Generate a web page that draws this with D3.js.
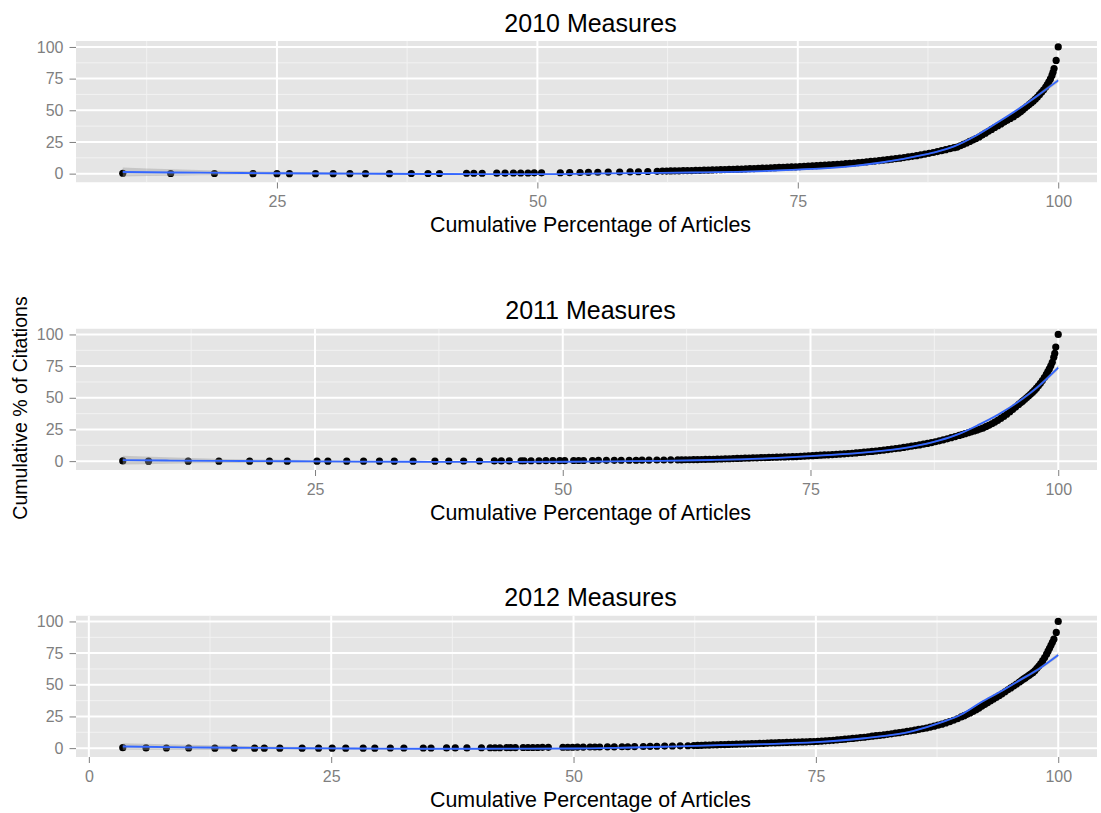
<!DOCTYPE html>
<html>
<head>
<meta charset="utf-8">
<script src="https://cdn.jsdelivr.net/npm/d3@7"></script>
<style>
  body { margin: 0; background: #fff; }
  svg { display: block; }
  text { font-family: "Liberation Sans", Arial, Helvetica, sans-serif; }
</style>
</head>
<body>
<svg id="chart" width="1101" height="813"></svg>
<script>
// ---- Data -----------------------------------------------------------------
const panelTitles = ["2010 Measures", "2011 Measures", "2012 Measures"];
const xAxisTitle = "Cumulative Percentage of Articles";
const yAxisTitle = "Cumulative % of Citations";
const xTicks = [0, 25, 50, 75, 100];
const yTicks = [0, 25, 50, 75, 100];
const xMinor = [12.5, 37.5, 62.5, 87.5];
const yMinor = [12.5, 37.5, 62.5, 87.5];

// 2010: cumulative % of articles (x) vs cumulative % of citations (y)
const x2010 = [10.2,14.8,19.0,22.7,25.0,26.2,28.7,30.4,32.0,33.5,35.8,37.9,39.5,40.6,43.2,43.9,44.7,46.1,46.9,47.7,
  48.4,49.1,49.7,50.4,52.2,53.1,54.1,54.9,55.8,56.8,57.9,58.9,59.7,60.6,61.5,
  62.0,62.4,62.8,63.2,63.6,64.0,64.4,64.8,65.2,65.6,66.0,66.4,66.8,67.2,67.6,68.0,68.4,68.8,69.2,69.6,
  70.0,70.4,70.8,71.2,71.6,72.0,72.4,72.8,73.2,73.6,74.0,74.4,74.8,75.2,75.6,76.0,76.4,76.8,77.2,77.6,
  78.0,78.4,78.8,79.2,79.6,80.0,80.4,80.8,81.2,81.6,82.0,82.4,82.8,83.2,83.6,84.0,84.4,84.8,85.2,85.6,
  86.0,86.4,86.8,87.2,87.6,88.0,88.4,88.8,89.2,89.6,90.0,
  90.3,90.6,90.9,91.2,91.5,91.8,92.1,92.4,92.7,93.0,93.3,93.6,93.9,94.2,94.5,94.8,95.1,95.4,95.7,96.0,
  96.2,96.4,96.6,96.8,97.0,97.2,97.4,97.6,97.8,98.0,98.2,98.4,98.6,98.8,98.95,99.1,99.25,99.4,99.5,99.6,
  99.8,100];
const y2010 = [0.3,0.1,0.1,0,0,0,0,0,0,0,0,0.1,0.1,0.1,0.3,0.3,0.3,0.4,0.4,0.5,
  0.5,0.5,0.6,0.6,0.7,0.8,0.9,1.0,1.1,1.2,1.3,1.4,1.5,1.7,1.8,
  2.0,2.0,2.1,2.2,2.2,2.3,2.4,2.4,2.5,2.6,2.7,2.8,2.9,3.0,3.1,3.2,3.3,3.4,3.5,3.6,
  3.8,3.9,4.0,4.1,4.3,4.4,4.6,4.7,4.9,5.0,5.1,5.3,5.4,5.6,5.8,6.0,6.2,6.4,6.6,6.8,
  7.0,7.2,7.4,7.6,7.9,8.1,8.4,8.7,9.0,9.3,9.6,9.9,10.3,10.6,11.0,11.4,11.8,12.2,12.7,13.2,
  13.7,14.2,14.8,15.4,16.0,16.7,17.4,18.1,18.9,19.7,20.5,
  21.0,22.0,23.1,24.2,25.4,26.5,27.7,28.9,30.4,31.9,33.4,34.9,36.4,37.8,39.2,40.7,42.1,43.6,45.0,46.6,
  47.8,49.1,50.5,51.8,53.2,54.5,55.8,57.2,58.8,60.5,62.3,64.2,66.2,68.4,70.3,72.5,74.8,77.5,80.0,83.0,
  89.4,100];

// 2011
const x2011 = [5.6,8.2,12.2,15.3,18.4,20.4,22.2,25.2,26.3,28.2,29.9,31.5,33.0,34.9,37.1,38.5,40.0,41.6,43.1,43.8,
  44.6,45.8,46.1,46.8,47.6,48.3,49.0,49.7,50.2,51.1,51.6,52.1,53.0,53.6,54.4,55.2,55.9,56.7,57.4,58.0,
  58.7,59.5,60.2,60.9,
  61.6,62.0,62.4,62.8,63.2,63.6,64.0,64.4,64.8,65.2,65.6,66.0,66.4,66.8,67.2,67.6,68.0,68.4,68.8,69.2,
  69.6,70.0,70.4,70.8,71.2,71.6,72.0,72.4,72.8,73.2,73.6,74.0,74.4,74.8,75.2,75.6,76.0,76.4,76.8,77.2,
  77.6,78.0,78.4,78.8,79.2,79.6,80.0,80.4,80.8,81.2,81.6,82.0,82.4,82.8,83.2,83.6,84.0,84.4,84.8,85.2,
  85.6,86.0,86.4,86.8,87.2,87.6,88.0,88.4,88.8,89.2,89.6,90.0,
  90.3,90.6,90.9,91.2,91.5,91.8,92.1,92.4,92.7,93.0,93.3,93.6,93.9,94.2,94.5,94.8,95.1,95.4,95.7,96.0,
  96.2,96.4,96.6,96.8,97.0,97.2,97.4,97.6,97.8,98.0,98.2,98.4,98.6,98.8,98.95,99.1,99.25,99.4,99.55,99.65,
  99.75,100];
const y2011 = [0.2,0,0,0,0,0,0,0,0,0,0,0,0,0,0,0.1,0.1,0.1,0.2,0.2,
  0.2,0.3,0.3,0.3,0.3,0.4,0.4,0.4,0.4,0.5,0.5,0.5,0.5,0.6,0.6,0.6,0.7,0.7,0.7,0.8,
  0.8,0.9,0.9,1.0,
  1.0,1.0,1.1,1.1,1.2,1.2,1.3,1.4,1.5,1.5,1.6,1.7,1.8,1.9,2.0,2.1,2.2,2.3,2.4,2.5,
  2.6,2.7,2.8,2.9,3.0,3.1,3.2,3.3,3.4,3.5,3.6,3.8,3.9,4.1,4.3,4.5,4.7,4.9,5.0,5.2,
  5.4,5.6,5.8,6.0,6.2,6.5,6.8,7.1,7.4,7.7,8.0,8.3,8.7,9.1,9.5,9.9,10.3,10.8,11.3,11.8,
  12.3,12.8,13.4,14.0,14.6,15.3,16.0,16.8,17.6,18.5,19.4,20.3,
  21.0,21.7,22.4,23.1,23.8,24.5,25.3,26.1,27.2,28.3,29.5,30.8,32.2,33.7,35.3,37.0,38.8,40.7,42.7,44.7,
  46.0,47.3,48.6,50.0,51.4,52.8,54.2,55.8,57.6,59.5,61.5,63.6,66.0,68.5,70.6,72.8,75.2,78.0,82.0,85.0,
  90.0,100];

// 2012
const x2012 = [3.5,5.9,8.0,10.3,13.0,15.0,17.1,18.1,19.7,22.0,23.7,25.1,26.5,28.3,29.5,31.1,32.5,34.5,35.3,36.9,
  37.8,39.0,40.5,41.4,41.9,42.4,43.1,43.5,44.0,44.8,45.3,45.8,46.3,46.8,47.4,48.9,49.4,49.9,50.4,51.0,
  51.7,52.2,52.7,53.5,54.2,55.0,55.6,56.3,57.2,57.9,58.6,59.4,60.2,61.0,61.8,
  62.4,62.8,63.2,63.6,64.0,64.4,64.8,65.2,65.6,66.0,66.4,66.8,67.2,67.6,68.0,68.4,68.8,69.2,69.6,70.0,
  70.4,70.8,71.2,71.6,72.0,72.4,72.8,73.2,73.6,74.0,74.4,74.8,75.2,75.6,76.0,76.4,76.8,77.2,77.6,78.0,
  78.4,78.8,79.2,79.6,80.0,80.4,80.8,81.2,81.6,82.0,82.4,82.8,83.2,83.6,84.0,84.4,84.8,85.2,85.6,86.0,
  86.4,86.8,87.2,87.6,88.0,88.4,88.8,89.2,89.6,90.0,
  90.3,90.6,90.9,91.2,91.5,91.8,92.1,92.4,92.7,93.0,93.3,93.6,93.9,94.2,94.5,94.8,95.1,95.4,95.7,96.0,
  96.2,96.4,96.6,96.8,97.0,97.2,97.4,97.6,97.8,98.0,98.2,98.4,98.6,98.8,98.95,99.1,99.25,99.4,99.55,99.8,
  100];
const y2012 = [0.4,0.2,0.1,0.1,0,0,0,0,0,0,0,0,0,0,0,0.1,0.1,0.1,0.1,0.2,
  0.2,0.2,0.3,0.3,0.3,0.3,0.4,0.4,0.4,0.5,0.5,0.5,0.5,0.6,0.6,0.7,0.7,0.7,0.8,0.8,
  0.9,0.9,0.9,1.0,1.0,1.1,1.1,1.2,1.3,1.4,1.5,1.6,1.7,1.8,1.9,
  2.0,2.1,2.2,2.3,2.4,2.5,2.6,2.7,2.8,2.9,3.0,3.1,3.2,3.3,3.4,3.5,3.6,3.7,3.8,4.0,
  4.1,4.2,4.3,4.4,4.5,4.6,4.7,4.8,4.9,5.0,5.1,5.2,5.4,5.6,5.8,6.0,6.2,6.5,6.8,7.1,
  7.4,7.7,8.0,8.3,8.6,9.0,9.4,9.8,10.1,10.5,10.9,11.3,11.8,12.2,12.7,13.2,13.7,14.2,14.8,15.3,
  15.9,16.6,17.3,18.1,18.9,19.9,20.9,22.0,23.2,24.6,
  25.6,26.7,27.8,29.0,30.2,31.4,33.0,34.4,35.8,37.2,38.6,40.0,41.4,42.9,44.5,46.0,47.5,49.0,50.6,52.2,
  53.3,54.4,55.4,56.5,57.6,58.7,59.8,61.3,63.0,64.8,66.8,69.0,71.5,74.2,76.5,78.8,81.2,83.5,86.0,91.3,
  100];

// Smoothed trend (loess) with its standard-error half-width, per year
const fitX2010 = [10.2,15,20,25,30,35,40,45,50,55,60,65,70,75,80,83,85,88,90,92,94,96,98,100];
const fitY2010 = [1.3,0.9,0.6,0.3,0.1,-0.1,-0.3,-0.4,-0.4,0,0.4,0.9,1.6,3.2,5.8,8.8,11.5,16.5,21.5,29.5,39.5,50,61.5,73.6];
const fitSe2010 = [3.5,2.5,1.7,1.2,0.9,0.8,0.7,0.6,0.6,0.6,0.6,0.6,0.6,0.6,0.6,0.6,0.6,0.7,0.7,0.8,0.9,1.0,1.2,1.6];

const fitX2011 = [5.6,10,15,20,25,30,35,40,45,50,55,60,65,70,75,80,85,88,90,92,94,96,98,100];
const fitY2011 = [0.8,0.5,0.2,0,-0.2,-0.4,-0.5,-0.6,-0.6,-0.5,-0.2,0.2,0.9,2.0,4.0,6.6,11.0,16.3,21.5,28.8,37.0,47.0,59.0,73.8];
const fitSe2011 = [3.5,2.5,1.7,1.2,0.9,0.8,0.7,0.6,0.6,0.6,0.6,0.6,0.6,0.6,0.6,0.6,0.6,0.7,0.7,0.8,0.9,1.0,1.2,1.6];

const fitX2012 = [3.5,10,15,20,25,30,35,40,45,50,55,60,65,70,75,80,85,88,90,92,94,96,98,100];
const fitY2012 = [1.3,0.6,0.3,0,-0.2,-0.4,-0.5,-0.5,-0.4,-0.3,0.3,1.2,2.3,3.2,4.7,7.8,13.5,20.5,26.5,36.0,44.5,53.5,62.5,73.5];
const fitSe2012 = [2.5,2.0,1.5,1.1,0.9,0.8,0.7,0.6,0.6,0.6,0.6,0.6,0.6,0.6,0.6,0.6,0.6,0.7,0.7,0.8,0.9,1.0,1.2,1.6];

// ---- Layout ---------------------------------------------------------------
const panels = [
  { title: panelTitles[0], xs: x2010, ys: y2010, fx: fitX2010, fy: fitY2010, se: fitSe2010 },
  { title: panelTitles[1], xs: x2011, ys: y2011, fx: fitX2011, fy: fitY2011, se: fitSe2011 },
  { title: panelTitles[2], xs: x2012, ys: y2012, fx: fitX2012, fy: fitY2012, se: fitSe2012 }
];

const svg = d3.select("#chart");
const panelLeft = 76, panelRight = 1105, panelVisRight = 1097;
const panelTops = [41, 328.5, 615.5];
const panelH = 141.5;
const yDomain = [-7, 104.7];
const grey50 = "#7f7f7f";

panels.forEach((p, i) => {
  const top = panelTops[i], bottom = top + panelH;
  const [lo, hi] = d3.extent(p.xs);
  const pad = (hi - lo) * 0.05;
  const x = d3.scaleLinear().domain([lo - pad, hi + pad]).range([panelLeft, panelRight]);
  const y = d3.scaleLinear().domain(yDomain).range([bottom, top]);
  const inX = v => v >= x.domain()[0] && v <= x.domain()[1];

  const clipId = "clip" + i;
  svg.append("clipPath").attr("id", clipId)
    .append("rect").attr("x", panelLeft).attr("y", top)
    .attr("width", panelVisRight - panelLeft).attr("height", panelH);

  const g = svg.append("g");
  const plot = g.append("g").attr("clip-path", `url(#${clipId})`);

  plot.append("rect")
    .attr("x", panelLeft).attr("y", top)
    .attr("width", panelVisRight - panelLeft).attr("height", panelH)
    .attr("fill", "#e5e5e5");

  // minor grid
  plot.selectAll(".vminor").data(xMinor.filter(inX)).join("line")
    .attr("x1", d => x(d)).attr("x2", d => x(d)).attr("y1", top).attr("y2", bottom)
    .attr("stroke", "#f2f2f2").attr("stroke-width", 1);
  plot.selectAll(".hminor").data(yMinor).join("line")
    .attr("x1", panelLeft).attr("x2", panelVisRight).attr("y1", d => y(d)).attr("y2", d => y(d))
    .attr("stroke", "#f2f2f2").attr("stroke-width", 1);
  // major grid
  plot.selectAll(".vmajor").data(xTicks.filter(inX)).join("line")
    .attr("x1", d => x(d)).attr("x2", d => x(d)).attr("y1", top).attr("y2", bottom)
    .attr("stroke", "#ffffff").attr("stroke-width", 2);
  plot.selectAll(".hmajor").data(yTicks).join("line")
    .attr("x1", panelLeft).attr("x2", panelVisRight).attr("y1", d => y(d)).attr("y2", d => y(d))
    .attr("stroke", "#ffffff").attr("stroke-width", 2);

  // points
  const pts = d3.zip(p.xs, p.ys);
  plot.append("g").selectAll("circle").data(pts).join("circle")
    .attr("cx", d => x(d[0])).attr("cy", d => y(d[1])).attr("r", 3.6)
    .attr("fill", "#000");

  // smoother ribbon and line
  const fit = d3.zip(p.fx, p.fy, p.se);
  plot.append("path").datum(fit)
    .attr("d", d3.area().curve(d3.curveMonotoneX)
      .x(d => x(d[0])).y0(d => y(d[1] - d[2])).y1(d => y(d[1] + d[2])))
    .attr("fill", "#999999").attr("fill-opacity", 0.4);
  plot.append("path").datum(fit)
    .attr("d", d3.line().curve(d3.curveMonotoneX).x(d => x(d[0])).y(d => y(d[1])))
    .attr("fill", "none").attr("stroke", "#3366FF").attr("stroke-width", 1.8);

  // y axis
  const yAxis = g.append("g").attr("transform", `translate(${panelLeft},0)`)
    .call(d3.axisLeft(y).tickValues(yTicks).tickSize(6.5).tickPadding(6).tickFormat(d3.format("d")));
  yAxis.select(".domain").remove();
  yAxis.selectAll(".tick line").attr("stroke", grey50).attr("stroke-width", 1);
  yAxis.selectAll(".tick text").attr("fill", grey50).style("font-size", "16px")
    .style("font-family", '"Liberation Sans", Arial, sans-serif');

  // x axis
  const xAxis = g.append("g").attr("transform", `translate(0,${bottom})`)
    .call(d3.axisBottom(x).tickValues(xTicks.filter(inX)).tickSize(6).tickFormat(d3.format("d")));
  xAxis.select(".domain").remove();
  xAxis.selectAll(".tick line").attr("stroke", grey50).attr("stroke-width", 1);
  xAxis.selectAll(".tick text").attr("fill", grey50).style("font-size", "16px")
    .style("font-family", '"Liberation Sans", Arial, sans-serif')
    .attr("y", 24.5).attr("dy", null);

  // titles
  const cx = (panelLeft + panelRight) / 2;
  g.append("text").attr("x", cx).attr("y", top - 9.5).attr("text-anchor", "middle")
    .style("font-size", "25px").attr("fill", "#000").text(p.title);
  g.append("text").attr("x", cx).attr("y", bottom + 49.5).attr("text-anchor", "middle")
    .style("font-size", "21.4px").attr("fill", "#000").text(xAxisTitle);
});

svg.append("text")
  .attr("transform", "translate(26.5,408) rotate(-90)")
  .attr("text-anchor", "middle")
  .style("font-size", "19.5px").attr("fill", "#000")
  .text(yAxisTitle);
</script>
</body>
</html>
